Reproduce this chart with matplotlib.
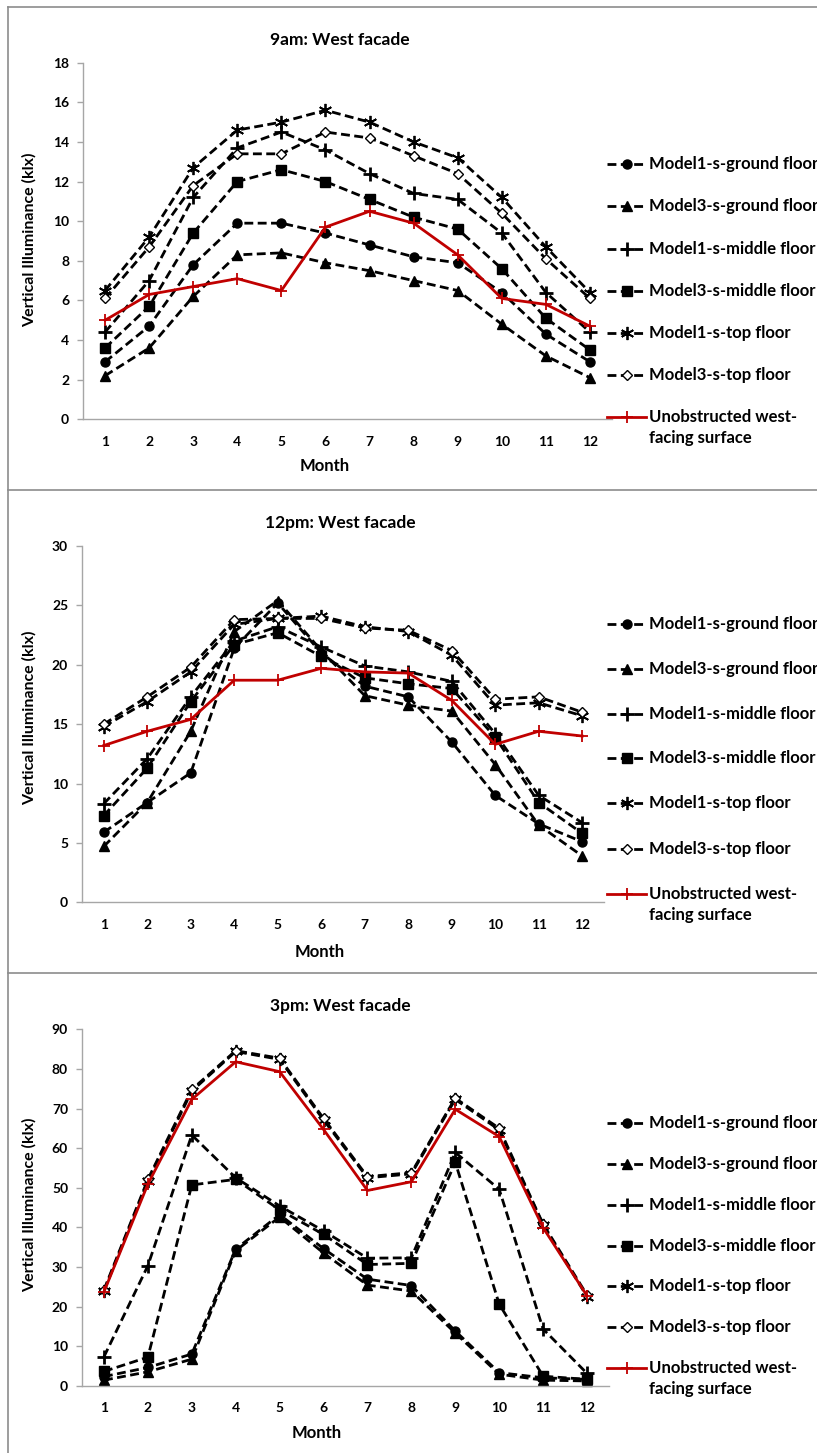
import matplotlib
matplotlib.use("Agg")
import matplotlib.pyplot as plt
from matplotlib.lines import Line2D

plt.rcParams['font.family'] = ['Lato', 'DejaVu Sans']

W, H = 817, 1453
DPI = 100

months = list(range(1, 13))

# ---- 9am: West facade (klx) ----
am9_m1_ground = [2.9, 4.7, 7.8, 9.9, 9.9, 9.4, 8.8, 8.2, 7.9, 6.4, 4.3, 2.9]
am9_m3_ground = [2.2, 3.6, 6.2, 8.3, 8.4, 7.9, 7.5, 7.0, 6.5, 4.8, 3.2, 2.1]
am9_m1_middle = [4.4, 7.0, 11.2, 13.7, 14.5, 13.6, 12.4, 11.4, 11.1, 9.4, 6.4, 4.4]
am9_m3_middle = [3.6, 5.7, 9.4, 12.0, 12.6, 12.0, 11.1, 10.2, 9.6, 7.6, 5.1, 3.5]
am9_m1_top = [6.5, 9.2, 12.7, 14.6, 15.0, 15.6, 15.0, 14.0, 13.2, 11.2, 8.7, 6.4]
am9_m3_top = [6.1, 8.7, 11.8, 13.4, 13.4, 14.5, 14.2, 13.3, 12.4, 10.4, 8.1, 6.1]
am9_unobstructed = [5.0, 6.3, 6.7, 7.1, 6.5, 9.7, 10.5, 9.9, 8.3, 6.1, 5.8, 4.7]

# ---- 12pm: West facade (klx) ----
pm12_m1_ground = [5.9, 8.4, 10.9, 21.4, 25.2, 21.0, 18.2, 17.3, 13.5, 9.0, 6.6, 5.1]
pm12_m3_ground = [4.7, 8.4, 14.4, 22.8, 25.4, 21.2, 17.4, 16.6, 16.1, 11.6, 6.5, 3.9]
pm12_m1_middle = [8.3, 12.1, 17.3, 22.0, 23.2, 21.5, 19.9, 19.4, 18.6, 14.2, 9.0, 6.7]
pm12_m3_middle = [7.3, 11.3, 16.9, 21.7, 22.7, 20.7, 18.9, 18.4, 18.0, 13.9, 8.4, 5.8]
pm12_m1_top = [14.8, 16.9, 19.4, 23.4, 23.9, 24.1, 23.2, 22.8, 20.8, 16.6, 16.8, 15.7]
pm12_m3_top = [15.0, 17.3, 19.8, 23.8, 23.9, 23.9, 23.1, 22.9, 21.2, 17.1, 17.3, 16.0]
pm12_unobstructed = [13.2, 14.4, 15.4, 18.7, 18.7, 19.7, 19.4, 19.3, 17.0, 13.3, 14.4, 14.0]

# ---- 3pm: West facade (klx) ----
pm3_m1_ground = [2.3, 4.6, 8.0, 34.5, 43.2, 34.6, 26.9, 25.3, 13.8, 3.3, 2.0, 1.6]
pm3_m3_ground = [1.4, 3.5, 6.7, 34.1, 42.6, 33.5, 25.4, 23.9, 13.3, 2.9, 1.4, 1.2]
pm3_m1_middle = [7.3, 30.3, 63.3, 52.5, 45.4, 39.1, 32.2, 32.3, 58.9, 49.6, 14.3, 3.1]
pm3_m3_middle = [3.6, 7.2, 50.7, 52.1, 44.4, 38.2, 30.6, 30.9, 56.4, 20.6, 2.4, 1.6]
pm3_m1_top = [23.9, 51.7, 74.4, 84.4, 82.4, 67.1, 52.5, 53.5, 72.3, 64.6, 40.6, 22.5]
pm3_m3_top = [24.2, 52.1, 74.8, 84.6, 82.7, 67.5, 52.8, 53.8, 72.6, 65.0, 40.8, 22.9]
pm3_unobstructed = [23.7, 50.9, 72.3, 81.8, 79.3, 64.7, 49.3, 51.5, 69.8, 62.9, 39.9, 22.7]

series_labels = ["Model1-s-ground floor", "Model3-s-ground floor",
                 "Model1-s-middle floor", "Model3-s-middle floor",
                 "Model1-s-top floor", "Model3-s-top floor"]
red_label = ["Unobstructed west-", "facing surface"]

RED = "#C00000"
AXIS_GREY = "#A6A6A6"
FRAME_GREY = "#8C8C8C"

# marker styles for the six obstructed series
styles = [
    dict(marker="o", ms=6.5, mfc="black", mec="black", mew=1.0),
    dict(marker="^", ms=7.0, mfc="black", mec="black", mew=1.0),
    dict(marker="+", ms=10.5, mfc="black", mec="black", mew=2.0),
    dict(marker="s", ms=6.5, mfc="black", mec="black", mew=1.0),
    dict(marker=(6, 2, 0), ms=9.5, mfc="black", mec="black", mew=1.3),
    dict(marker="D", ms=5.5, mfc="white", mec="black", mew=1.0),
]
red_style = dict(marker="+", ms=8.0, mec=RED, mew=1.3)

panels = [
    dict(title="9am: West facade",
         data=[am9_m1_ground, am9_m3_ground, am9_m1_middle, am9_m3_middle, am9_m1_top, am9_m3_top],
         red=am9_unobstructed, ymax=18, ystep=2,
         box=(83, 612, 62.7, 419.3), title_y=40, month_xy=(325, 466), ylab_y=240,
         leg=[164, 206, 249, 291, 333, 375, 417], leg2=438),
    dict(title="12pm: West facade",
         data=[pm12_m1_ground, pm12_m3_ground, pm12_m1_middle, pm12_m3_middle, pm12_m1_top, pm12_m3_top],
         red=pm12_unobstructed, ymax=30, ystep=5,
         box=(82, 604, 546, 902.3), title_y=523, month_xy=(320, 952), ylab_y=718,
         leg=[624, 669, 714, 758, 803, 849, 894], leg2=915),
    dict(title="3pm: West facade",
         data=[pm3_m1_ground, pm3_m3_ground, pm3_m1_middle, pm3_m3_middle, pm3_m1_top, pm3_m3_top],
         red=pm3_unobstructed, ymax=90, ystep=10,
         box=(82, 609, 1029.3, 1385.7), title_y=1006, month_xy=(317, 1433), ylab_y=1205,
         leg=[1123, 1164, 1205, 1246, 1286, 1327, 1368], leg2=1389),
]

fig = plt.figure(figsize=(W / DPI, H / DPI), dpi=DPI)
fig.patch.set_facecolor("white")


def fx(x):
    return x / W


def fy(y):
    return 1 - y / H


# outer frame and panel separators
frame_kw = dict(color=FRAME_GREY, lw=1.2, transform=fig.transFigure)
fig.add_artist(Line2D([fx(8), fx(8)], [fy(7), fy(H + 5)], **frame_kw))
for yline in (7, 490, 973):
    fig.add_artist(Line2D([fx(8), fx(W + 5)], [fy(yline), fy(yline)], **frame_kw))

DASH = (0, (3.2, 1.6))
LEG_FS = 12

for p in panels:
    left, right, top, bottom = p["box"]
    ax = fig.add_axes([fx(left), fy(bottom), fx(right) - fx(left), fy(top) - fy(bottom)])
    ax.set_facecolor("none")

    for vals, st in zip(p["data"], styles):
        ax.plot(months, vals, color="black", lw=2.0, linestyle=DASH, clip_on=False, **st)
    ax.plot(months, p["red"], color=RED, lw=2.0, linestyle="-", clip_on=False, zorder=3, **red_style)

    ax.set_xlim(0.5, 12.5)
    ax.set_ylim(0, p["ymax"])
    ax.set_xticks(months)
    ax.set_yticks(range(0, p["ymax"] + 1, p["ystep"]))
    for s in ("top", "right"):
        ax.spines[s].set_visible(False)
    for s in ("left", "bottom"):
        ax.spines[s].set_color(AXIS_GREY)
        ax.spines[s].set_linewidth(1.0)
    ax.tick_params(axis="y", direction="out", length=4, width=1.0, color=AXIS_GREY,
                   pad=6, labelsize=10)
    ax.tick_params(axis="x", length=0, pad=12, labelsize=10)
    for lab in ax.get_xticklabels() + ax.get_yticklabels():
        lab.set_fontweight("bold")

    fig.text(fx(340), fy(p["title_y"]), p["title"], ha="center", va="center",
             fontsize=12.5, fontweight="bold")
    fig.text(fx(p["month_xy"][0]), fy(p["month_xy"][1]), "Month", ha="center", va="center",
             fontsize=12, fontweight="bold")
    fig.text(fx(29), fy(p["ylab_y"]), "Vertical Illuminance (klx)", ha="center", va="center",
             rotation=90, fontsize=11.5, fontweight="bold")

    # legend entries
    hx0, hx1 = 607, 646
    for yy, lab, st in zip(p["leg"][:6], series_labels, styles):
        fig.add_artist(Line2D([fx(hx0), fx((hx0 + hx1) / 2), fx(hx1)], [fy(yy)] * 3,
                              color="black", lw=2.0, linestyle=DASH, markevery=[1],
                              transform=fig.transFigure, **st))
        fig.text(fx(649), fy(yy), lab, ha="left", va="center", fontsize=LEG_FS, fontweight="bold")
    yy = p["leg"][6]
    fig.add_artist(Line2D([fx(hx0), fx((hx0 + hx1) / 2), fx(hx1)], [fy(yy)] * 3,
                          color=RED, lw=2.0, linestyle="-", markevery=[1],
                          transform=fig.transFigure, **red_style))
    fig.text(fx(649), fy(yy), red_label[0], ha="left", va="center", fontsize=LEG_FS,
             fontweight="bold")
    fig.text(fx(649), fy(p["leg2"]), red_label[1], ha="left", va="center", fontsize=LEG_FS,
             fontweight="bold")

fig.savefig("out.png", dpi=DPI)
